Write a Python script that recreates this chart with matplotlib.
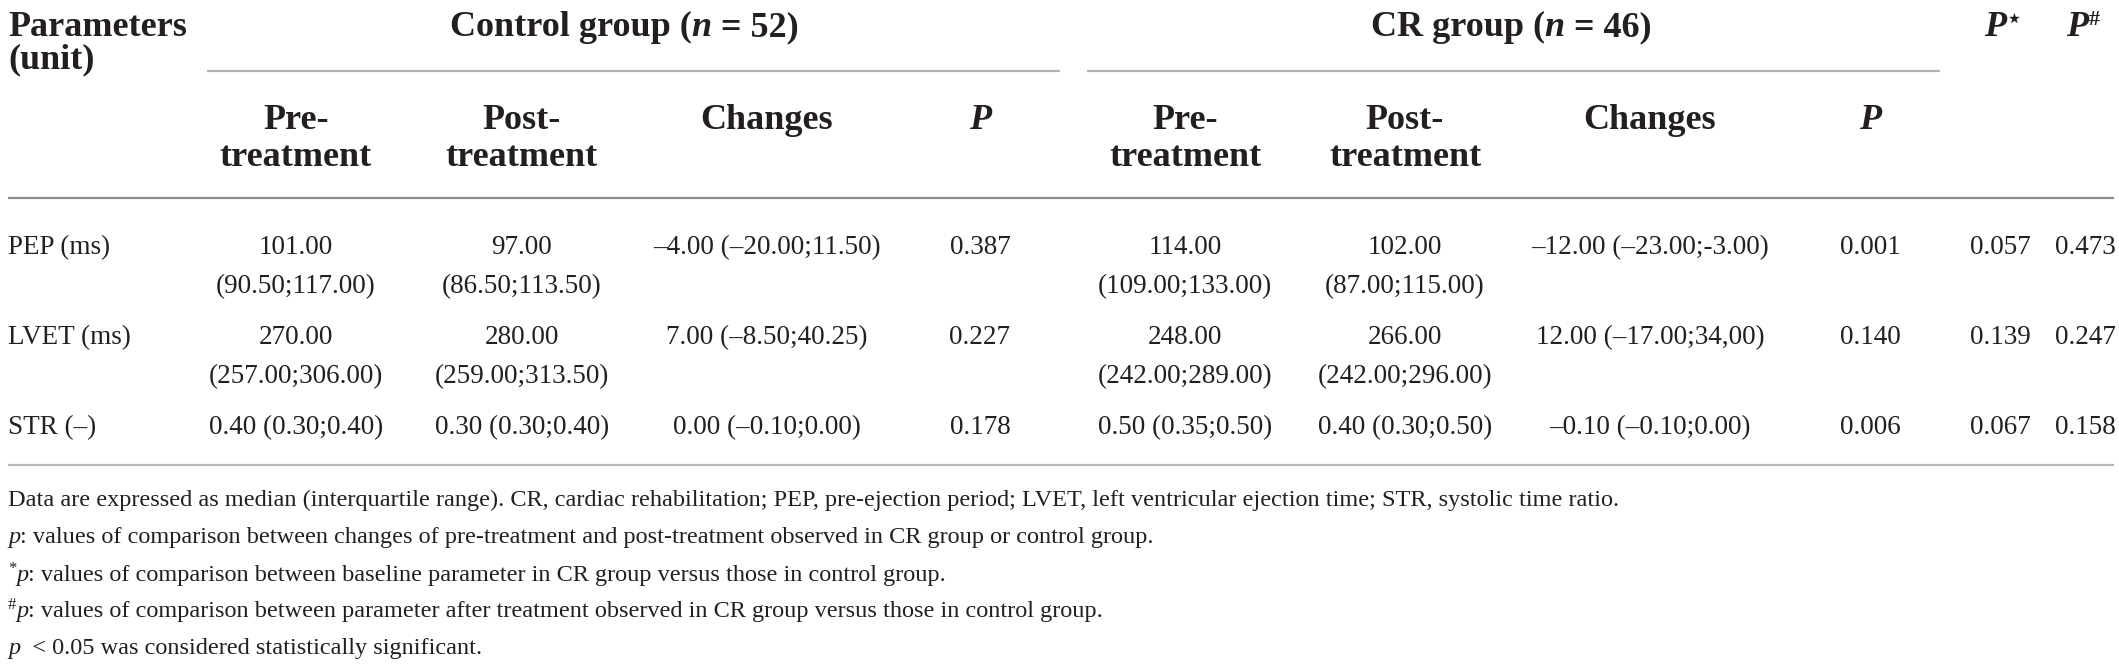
import matplotlib
matplotlib.use('Agg')
import matplotlib.pyplot as plt

plt.rcParams['font.family'] = ['Liberation Serif', 'DejaVu Serif']

# table content
params = ['PEP (ms)', 'LVET (ms)', 'STR (–)']

ctrl_pre = [['101.00', '(90.50;117.00)'], ['270.00', '(257.00;306.00)'], ['0.40 (0.30;0.40)']]
ctrl_post = [['97.00', '(86.50;113.50)'], ['280.00', '(259.00;313.50)'], ['0.30 (0.30;0.40)']]
ctrl_change = ['–4.00 (–20.00;11.50)', '7.00 (–8.50;40.25)', '0.00 (–0.10;0.00)']
ctrl_p = ['0.387', '0.227', '0.178']

cr_pre = [['114.00', '(109.00;133.00)'], ['248.00', '(242.00;289.00)'], ['0.50 (0.35;0.50)']]
cr_post = [['102.00', '(87.00;115.00)'], ['266.00', '(242.00;296.00)'], ['0.40 (0.30;0.50)']]
cr_change = ['–12.00 (–23.00;-3.00)', '12.00 (–17.00;34,00)', '–0.10 (–0.10;0.00)']
cr_p = ['0.001', '0.140', '0.006']

p_star = ['0.057', '0.139', '0.067']
p_hash = ['0.473', '0.247', '0.158']

W, H = 2119, 667
BODY = 19.5
HEAD = 26
NOTE = 17.5
TXT = '#231f20'

fig = plt.figure(figsize=(W / 100, H / 100), dpi=100)
ax = fig.add_axes([0, 0, 1, 1])
ax.set_xlim(0, W)
ax.set_ylim(H, 0)
ax.axis('off')
fig.canvas.draw()
renderer = fig.canvas.get_renderer()


def runs(x, y, parts, ha='left', size=BODY):
    # draw a row of text pieces next to each other, each with its own style
    objs = []
    total = 0
    for p in parts:
        s = p[0]
        kw = dict(p[1]) if len(p) > 1 else {}
        dy = kw.pop('dy', 0)
        sz = kw.pop('size', size)
        t = ax.text(0, y - dy, s, fontsize=sz, color=TXT, ha='left', va='baseline', **kw)
        w = t.get_window_extent(renderer).width
        objs.append((t, w))
        total += w
    if ha == 'center':
        x0 = x - total / 2
    elif ha == 'right':
        x0 = x - total
    else:
        x0 = x
    for t, w in objs:
        t.set_x(x0)
        x0 += w


B = {'weight': 'bold'}
BI = {'weight': 'bold', 'style': 'italic'}
I = {'style': 'italic'}
STAR = {'family': ['DejaVu Sans'], 'weight': 'bold', 'size': 17, 'dy': 10}
HASH = {'weight': 'bold', 'size': 16, 'dy': 11}

# header
runs(8, 36, [('Parameters', B)], size=HEAD)
runs(8, 68, [('(unit)', B)], size=HEAD)
runs(624, 36, [('Control group (', B), ('n', BI), (' = 52)', B)], ha='center', size=HEAD)
runs(1511, 36, [('CR group (', B), ('n', BI), (' = 46)', B)], ha='center', size=HEAD)
runs(2002, 36, [('P', BI), ('⋆', STAR)], ha='center', size=HEAD)
runs(2083, 36, [('P', BI), ('#', HASH)], ha='center', size=HEAD)

ax.plot([207, 1060], [71, 71], color='#b0b0b0', lw=1.6, solid_capstyle='butt')
ax.plot([1087, 1940], [71, 71], color='#b0b0b0', lw=1.6, solid_capstyle='butt')

cols = [296, 522, 767, 980, 1185, 1405, 1650, 1870, 2000, 2085]
for g in (0, 4):
    for c, top in zip(cols[g:g + 2], ['Pre-', 'Post-']):
        runs(c, 129, [(top, B)], ha='center', size=HEAD)
        runs(c, 166, [('treatment', B)], ha='center', size=HEAD)
    runs(cols[g + 2], 129, [('Changes', B)], ha='center', size=HEAD)
    runs(cols[g + 3], 129, [('P', BI)], ha='center', size=HEAD)

ax.plot([8, 2114], [198, 198], color='#8a8a8a', lw=1.6, solid_capstyle='butt')

# body rows
row_y = [254, 344, 434]
line_gap = 39
for i, name in enumerate(params):
    y = row_y[i]
    runs(8, y, [(name,)])
    for c, cell in zip([cols[0], cols[1], cols[4], cols[5]],
                       [ctrl_pre[i], ctrl_post[i], cr_pre[i], cr_post[i]]):
        for k, line in enumerate(cell):
            runs(c, y + k * line_gap, [(line,)], ha='center')
    for c, val in zip([cols[2], cols[3], cols[6], cols[7], cols[8], cols[9]],
                      [ctrl_change[i], ctrl_p[i], cr_change[i], cr_p[i], p_star[i], p_hash[i]]):
        runs(c, y, [(val,)], ha='center')

ax.plot([8, 2114], [465, 465], color='#b8b8b8', lw=1.6, solid_capstyle='butt')

# footnotes
notes = [
    [('Data are expressed as median (interquartile range). CR, cardiac rehabilitation; PEP, pre-ejection period; '
      'LVET, left ventricular ejection time; STR, systolic time ratio.',)],
    [('p', I), (': values of comparison between changes of pre-treatment and post-treatment observed in CR group or control group.',)],
    [('*', {'size': 12, 'dy': 8}), ('p', I), (': values of comparison between baseline parameter in CR group versus those in control group.',)],
    [('#', {'size': 12, 'dy': 8}), ('p', I), (': values of comparison between parameter after treatment observed in CR group versus those in control group.',)],
    [('p', I), ('  < 0.05 was considered statistically significant.',)],
]
note_y = [506, 543, 581, 617, 654]
for parts, y in zip(notes, note_y):
    runs(8, y, parts, size=NOTE)

fig.savefig('out.png', dpi=100)
